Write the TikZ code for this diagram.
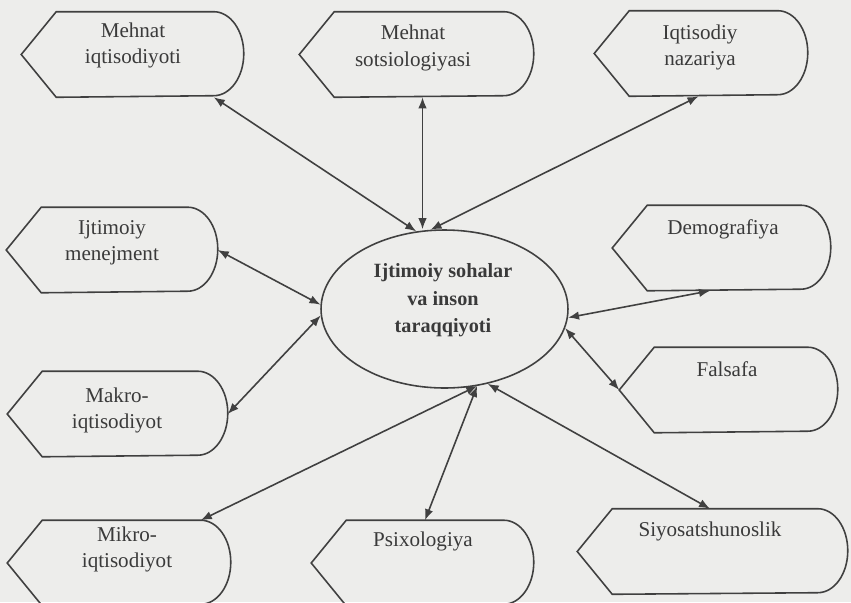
\documentclass[tikz,border=0pt]{standalone}
\usepackage{fontspec}
\setmainfont{Liberation Serif}
\usepackage{xcolor}
\definecolor{paper}{RGB}{237,237,235}
\definecolor{ink}{RGB}{64,64,64}
\definecolor{inktext}{RGB}{58,58,58}
\usepackage{tikz}
\usetikzlibrary{arrows.meta, calc, shapes.geometric}

% outline of a display box around a named body node
\newcommand{\dispshape}[1]{%
  \coordinate (#1-tip) at ([xshift=0.6cm]#1.east);
  \coordinate (#1-pt) at ([xshift=-0.7cm]#1.west);
  \draw (#1.north west) -- (#1.north east) arc (90:-90:0.6cm and 0.84cm)
    -- (#1.south west) -- (#1-pt) -- cycle;}

\begin{document}
\begin{tikzpicture}[x=0.02cm, y=-0.02cm, color=ink,
    every path/.style={line width=0.9pt},
    dispbox/.style={minimum height=1.68cm, inner sep=0pt},
    lbl/.style={align=center, text=inktext, font=\fontsize{12}{15}\selectfont},
    link/.style={{Latex[length=2.2mm,width=1.7mm]}-{Latex[length=2.2mm,width=1.7mm]}}]
    \useasboundingbox (0,0) rectangle (851,602);
    \fill[paper] (0,0) rectangle (851,602);

    % centre
    \node[ellipse, draw, minimum width=4.94cm, minimum height=3.16cm, inner sep=0pt] (soh) at (444.5,309) {};
    \node[lbl, font=\fontsize{11.5}{15.6}\selectfont\bfseries] (soh-t) at (443,300.5) {Ijtimoiy sohalar\\va inson\\taraqqiyoti};

    % boxes
    \node[dispbox, minimum width=3.12cm] (mi) at (135,54.5) {};
    \dispshape{mi}
    \node[lbl] (mi-t) at (133,45.5) {Mehnat\\iqtisodiyoti};

    \node[dispbox, minimum width=3.36cm] (ms) at (419,54.5) {};
    \dispshape{ms}
    \node[lbl] (ms-t) at (413,48) {Mehnat\\sotsiologiyasi};

    \node[dispbox, minimum width=2.94cm] (in) at (703.5,53.5) {};
    \dispshape{in}
    \node[lbl] (in-t) at (700,47.5) {Iqtisodiy\\nazariya};

    \node[dispbox, minimum width=2.90cm] (im) at (114.5,250) {};
    \dispshape{im}
    \node[lbl] (im-t) at (112,243) {Ijtimoiy\\menejment};

    \node[dispbox, minimum width=3.08cm] (ma) at (120,414) {};
    \dispshape{ma}
    \node[lbl] (ma-t) at (117,410.5) {Makro-\\iqtisodiyot};

    \node[dispbox, minimum width=3.14cm] (mk) at (121.5,563) {};
    \dispshape{mk}
    \node[lbl] (mk-t) at (127,549.5) {Mikro-\\iqtisodiyot};

    \node[dispbox, minimum width=3.12cm] (ps) at (425,563) {};
    \dispshape{ps}
    \node[lbl] (ps-t) at (423,541) {Psixologiya};

    \node[dispbox, minimum width=4.08cm] (sy) at (715,551.5) {};
    \dispshape{sy}
    \node[lbl] (sy-t) at (710,531) {Siyosatshunoslik};

    \node[dispbox, minimum width=3.04cm] (de) at (724,248) {};
    \dispshape{de}
    \node[lbl] (de-t) at (723,229) {Demografiya};

    \node[dispbox, minimum width=3.04cm] (fa) at (731,390) {};
    \dispshape{fa}
    \node[lbl] (fa-t) at (727,369) {Falsafa};

    % links
    \draw[link] (mi.south east) -- (soh.110);
    \draw[link] ([xshift=0.07cm]ms.south) -- ([xshift=0.07cm]ms.south |- soh.north);
    \draw[link] ([xshift=-0.1cm]in.south) -- (soh.100);
    \draw[link] (im-tip) -- (soh.178);
    \draw[link] (ma-tip) -- (soh.183);
    \draw[link] (mk.north east) -- (soh.293);
    \draw[link] (ps.north) -- (soh.293);
    \draw[link] ([xshift=-0.1cm]sy.north) -- (soh.300);
    \draw[link] ([xshift=-0.28cm]de.south) -- (soh.356);
    \draw[link] (fa-pt) -- (soh.351);
\end{tikzpicture}
\end{document}
